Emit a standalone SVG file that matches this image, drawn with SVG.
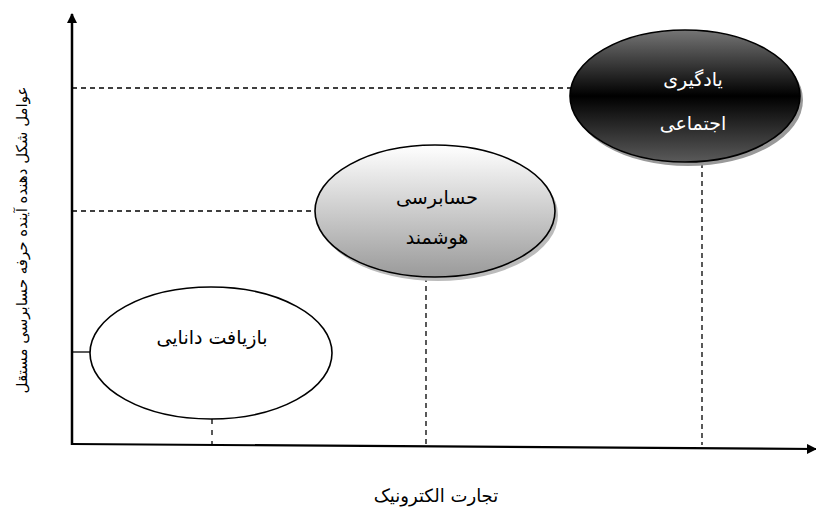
<svg xmlns="http://www.w3.org/2000/svg" width="816" height="511" viewBox="0 0 816 511">
<defs>
<style>
.t{font-family:"DejaVu Sans","Liberation Serif",serif;font-size:19px;text-anchor:middle;fill:#000}
.w{fill:#fff}
.dash{stroke:#000;stroke-width:1.3;stroke-dasharray:5,4;fill:none}
.axis{stroke:#000;stroke-width:2.2;fill:none}
.el{stroke:#000;stroke-width:1.6}
</style>
<linearGradient id="g2" x1="0" y1="0" x2="0" y2="1">
<stop offset="0" stop-color="#ffffff"/><stop offset="1" stop-color="#9a9a9a"/>
</linearGradient>
<linearGradient id="g3" x1="0" y1="0" x2="0" y2="1">
<stop offset="0" stop-color="#757575"/><stop offset="0.5" stop-color="#000"/><stop offset="1" stop-color="#5a5a5a"/>
</linearGradient>
<marker id="ah" markerWidth="10" markerHeight="10" refX="9" refY="5" orient="auto" markerUnits="userSpaceOnUse">
<path d="M0,0 L10,5 L0,10 Z" fill="#000"/>
</marker>
</defs>
<g id="connectors">
<line class="axis" x1="72" y1="445" x2="72" y2="14" marker-end="url(#ah)" style="stroke-width:2.5"/>
<line class="axis" x1="72" y1="444" x2="816" y2="449" marker-end="url(#ah)"/>
<line class="dash" x1="72" y1="88" x2="571" y2="88"/>
<line class="dash" x1="72" y1="211" x2="315" y2="211"/>
<line stroke="#000" stroke-width="1.3" x1="72" y1="352" x2="90" y2="352"/>
<line class="dash" x1="212" y1="419" x2="212" y2="445" style="stroke-dasharray:5,6"/>
<line class="dash" x1="426" y1="277" x2="426" y2="445"/>
<line class="dash" x1="702" y1="163" x2="702" y2="445"/>
</g>
<g id="n1">
<ellipse class="el" cx="211" cy="353" rx="121" ry="66" fill="#fff"/>
<text class="t" x="212" y="344">بازیافت دانایی</text>
</g>
<g id="n2">
<ellipse cx="438" cy="215" rx="120" ry="66" fill="#bbb"/>
<ellipse class="el" cx="435" cy="211" rx="120" ry="66" fill="url(#g2)"/>
<text class="t" x="437" y="204">حسابرسی</text>
<text class="t" x="437" y="244">هوشمند</text>
</g>
<g id="n3">
<ellipse cx="688" cy="100" rx="115" ry="66" fill="#999"/>
<ellipse class="el" cx="685" cy="96" rx="115" ry="66" fill="url(#g3)"/>
<text class="t w" x="693" y="86">یادگیری</text>
<text class="t w" x="693" y="130">اجتماعی</text>
</g>
<g id="labels">
<text class="t" x="436" y="502" style="font-size:18px">تجارت الکترونیک</text>
<text class="t" transform="translate(27,240) rotate(-90)" x="0" y="0" style="font-size:15px">عوامل شکل دهنده آینده حرفه حسابرسی مستقل</text>
</g>
</svg>
